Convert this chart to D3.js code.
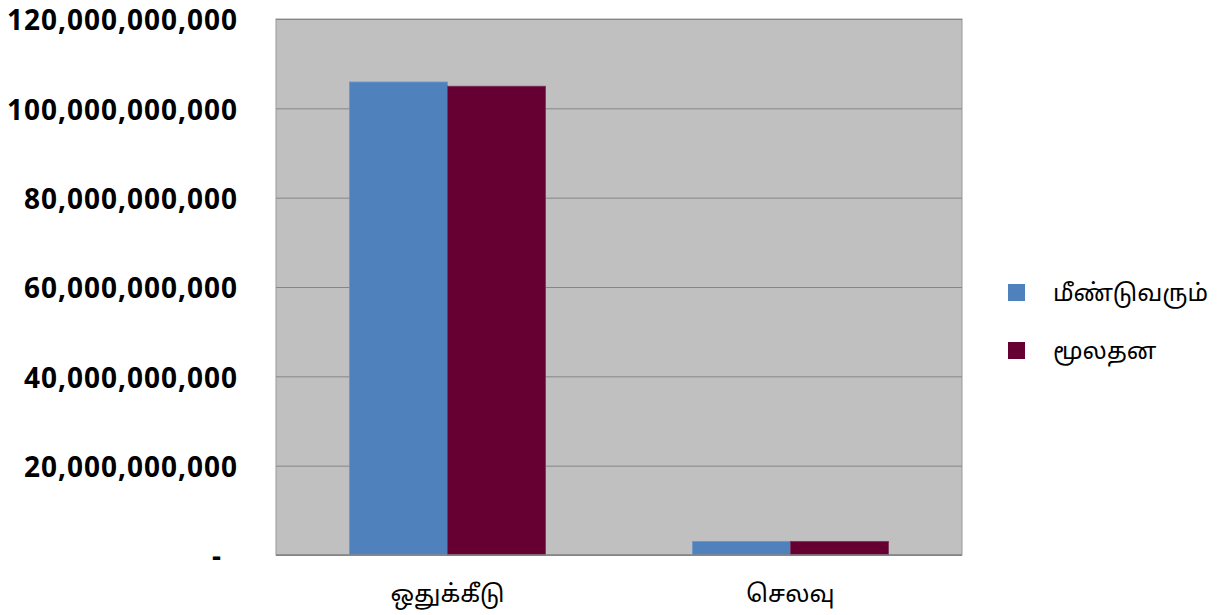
<!DOCTYPE html>
<html><head><meta charset="utf-8">
<script src="https://cdn.jsdelivr.net/npm/d3@7"></script>
<style>body{margin:0;background:#fff;} svg{display:block;}</style>
</head><body>
<svg id="c" width="1223" height="615"></svg>
<script>
const categories = ["ஒதுக்கீடு", "செலவு"];
const seriesNames = ["மீண்டுவரும்", "மூலதன"];
const recurrent = [105900000000, 3050000000];
const capital = [104950000000, 3050000000];
const yTicks = [0, 20000000000, 40000000000, 60000000000, 80000000000, 100000000000, 120000000000];
const colors = ["#4F81BD", "#660033"];

const svg = d3.select("#c");
const L = 276, R = 962, T = 19, B = 555;
const x = d3.scaleBand().domain(categories).range([L, R]).paddingInner(1 - 196/343).paddingOuter((1 - 196/343)/2);
const xs = d3.scaleBand().domain(seriesNames).range([0, x.bandwidth()]);
const y = d3.scaleLinear().domain([0, 120000000000]).range([B, T]);

svg.append("rect").attr("x", L).attr("y", T).attr("width", R - L).attr("height", B - T)
  .attr("fill", "#C0C0C0").attr("stroke", "#999").attr("stroke-width", 1);

const fmt = d3.format(",");
const yAxis = d3.axisLeft(y).tickValues(yTicks).tickSize(-(R - L)).tickPadding(38)
  .tickFormat(d => d === 0 ? "-" : fmt(d));
const g = svg.append("g").attr("transform", `translate(${L},0)`).call(yAxis);
g.select(".domain").remove();
g.selectAll(".tick line").attr("stroke", "#868686").attr("stroke-width", 1);
g.selectAll(".tick text").attr("font-family", "'Open Sans', sans-serif").attr("font-weight", 700)
  .attr("font-size", 28).attr("letter-spacing", "1px").attr("dy", "0.39em").attr("fill", "#000");
g.selectAll(".tick").filter(d => d === 0).select("text").attr("x", -54);

const data = categories.map((c, i) => ({c, vals: [recurrent[i], capital[i]]}));
const grp = svg.append("g").selectAll("g").data(data).join("g")
  .attr("transform", d => `translate(${x(d.c)},0)`);
grp.selectAll("rect").data(d => d.vals.map((v, j) => ({v, s: seriesNames[j], j}))).join("rect")
  .attr("x", d => xs(d.s)).attr("width", xs.bandwidth())
  .attr("y", d => y(d.v)).attr("height", d => y(0) - y(d.v))
  .attr("fill", d => colors[d.j]).attr("stroke", d => d.j === 0 ? "#6f95c8" : "#7a3355").attr("stroke-width", 0.8);

svg.append("line").attr("x1", L).attr("x2", R).attr("y1", B).attr("y2", B).attr("stroke", "#868686").attr("stroke-width", 1.5);

const xAxis = d3.axisBottom(x).tickSize(0).tickPadding(30);
const gx = svg.append("g").attr("transform", `translate(0,${B})`).call(xAxis);
gx.select(".domain").remove();
gx.selectAll(".tick text").attr("font-family", "'Noto Sans Tamil', Latha, 'Noto Sans', sans-serif")
  .attr("font-size", 24).attr("fill", "#000");

const leg = svg.append("g").selectAll("g").data(seriesNames).join("g")
  .attr("transform", (d, i) => `translate(1008,${284 + i * 58})`);
leg.append("rect").attr("width", 17).attr("height", 17).attr("fill", (d, i) => colors[i]);
leg.append("text").attr("x", 45).attr("y", 9).attr("dy", "0.35em").text(d => d)
  .attr("font-family", "'Noto Sans Tamil', Latha, 'Noto Sans', sans-serif").attr("font-size", 24).attr("fill", "#000");
</script>
</body></html>
